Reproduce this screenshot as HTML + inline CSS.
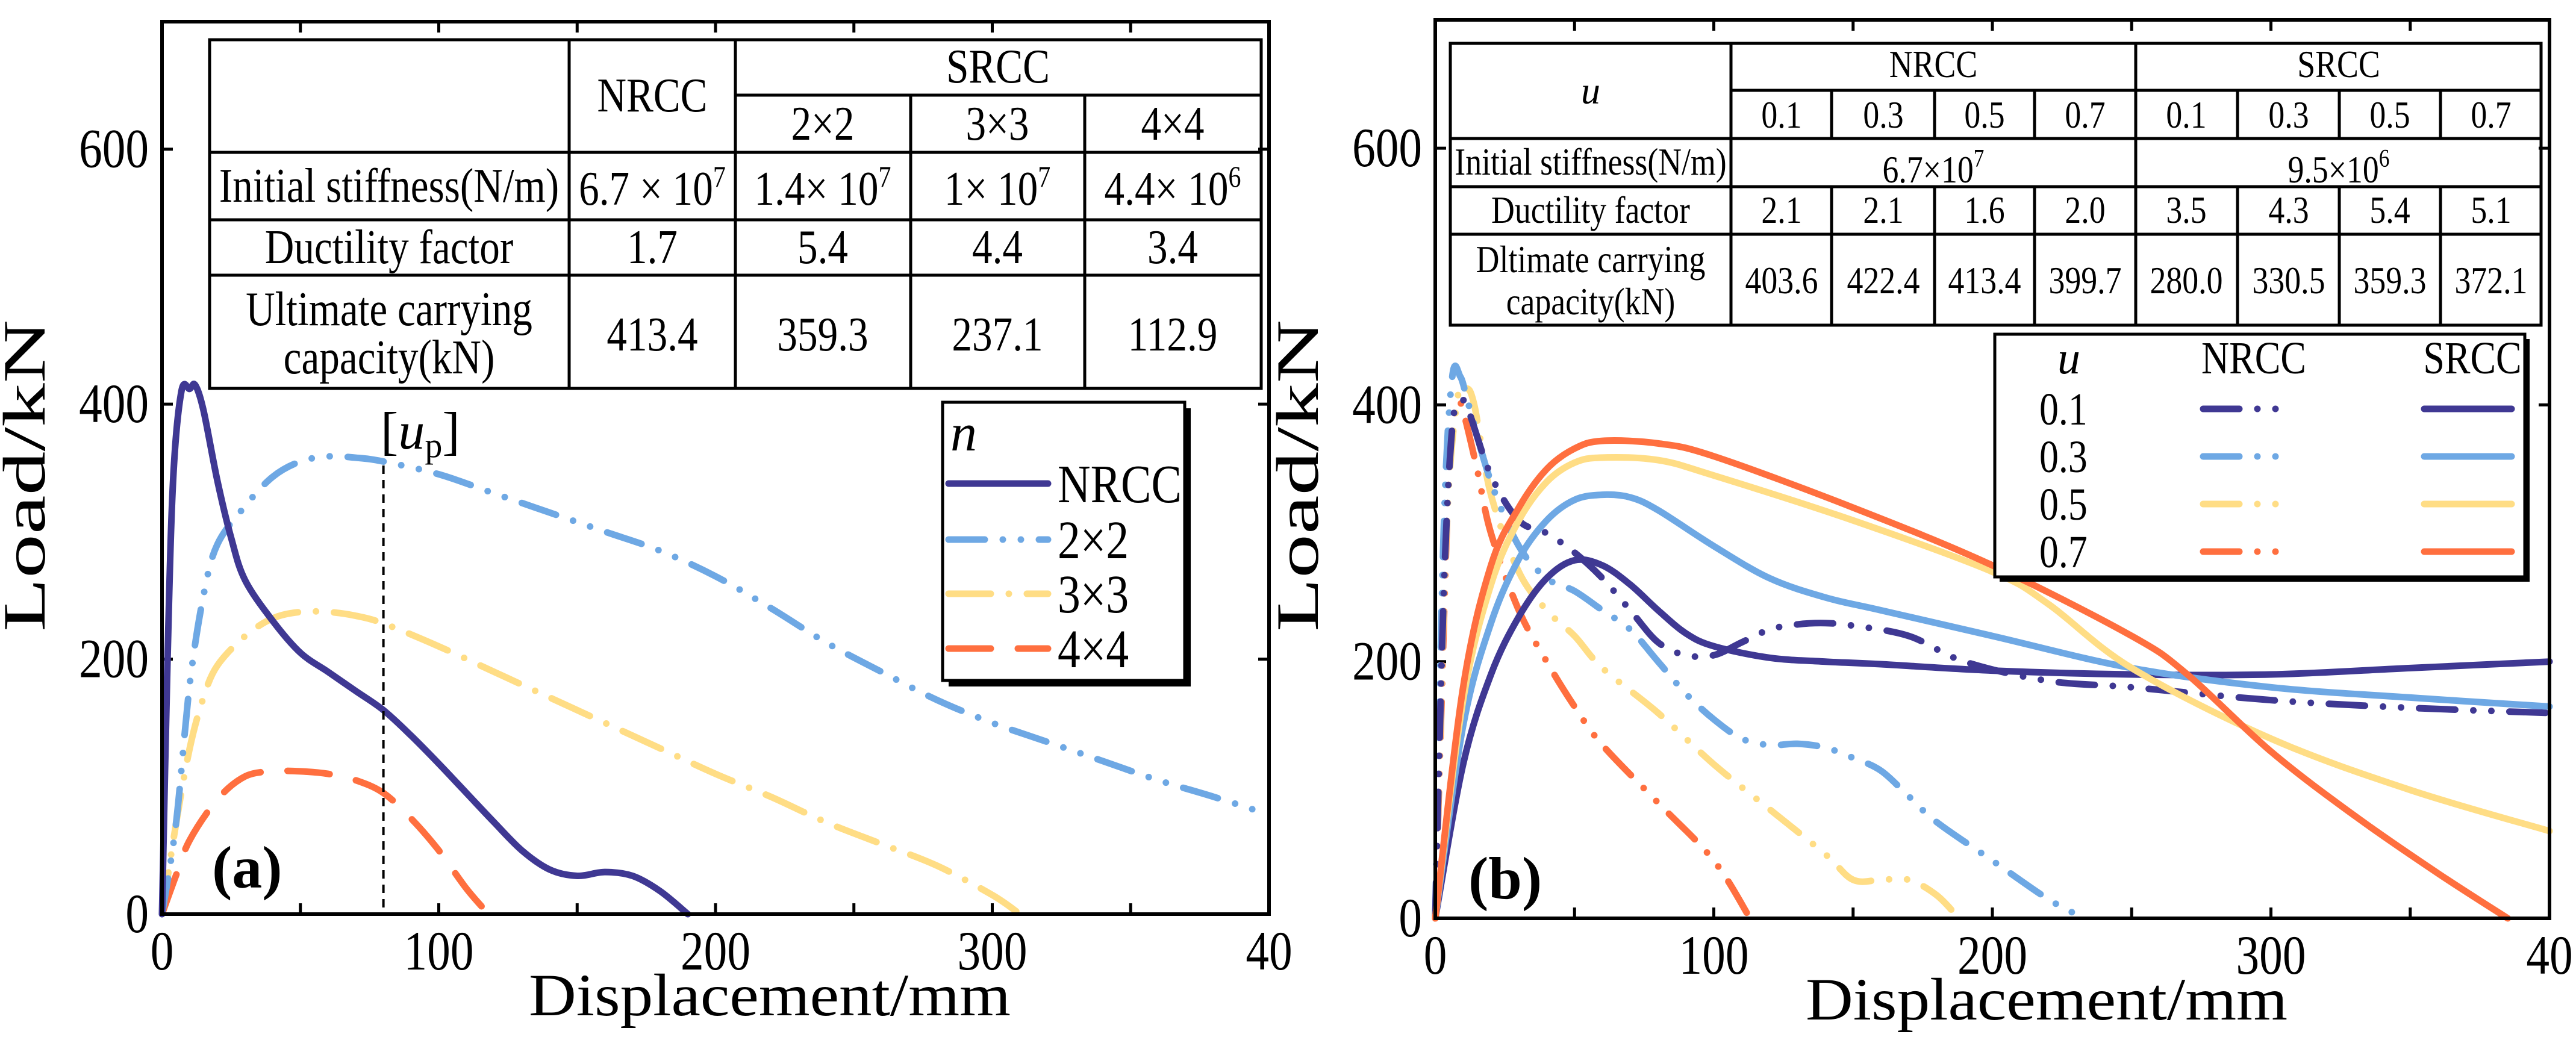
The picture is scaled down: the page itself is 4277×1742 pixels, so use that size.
<!DOCTYPE html>
<html><head><meta charset="utf-8"><style>
html,body{margin:0;padding:0;background:#fff;}
svg{display:block;}
text{font-family:"Liberation Serif","Times New Roman","DejaVu Serif",serif;fill:#000;}
</style></head><body>
<svg id="chart" width="4277" height="1742" viewBox="0 0 4277 1742" xmlns="http://www.w3.org/2000/svg">
<rect width="4277" height="1742" fill="#fff"/>
<g id="plotA"></g>
<g id="plotB"></g>

<!-- Left table -->
<g stroke="#000" stroke-width="5" fill="none">
<rect x="348" y="66" width="1746" height="579"/>
<line x1="1221" y1="158" x2="2094" y2="158"/>
<line x1="348" y1="253" x2="2094" y2="253"/>
<line x1="348" y1="365" x2="2094" y2="365"/>
<line x1="348" y1="457" x2="2094" y2="457"/>
<line x1="945" y1="66" x2="945" y2="645"/>
<line x1="1221" y1="66" x2="1221" y2="645"/>
<line x1="1512" y1="158" x2="1512" y2="645"/>
<line x1="1801" y1="158" x2="1801" y2="645"/>
</g>
<g font-size="80" text-anchor="middle">
<text class="c" x="1083" y="185">NRCC</text>
<text class="c" x="1657" y="137">SRCC</text>
<text class="c" x="1366" y="232">2×2</text>
<text class="c" x="1656" y="232">3×3</text>
<text class="c" x="1947" y="232">4×4</text>
<text class="c" x="646" y="335">Initial stiffness(N/m)</text>
<text class="c" x="1083" y="340">6.7 × 10<tspan dy="-30" font-size="50">7</tspan></text>
<text class="c" x="1366" y="340">1.4× 10<tspan dy="-30" font-size="50">7</tspan></text>
<text class="c" x="1656" y="340">1× 10<tspan dy="-30" font-size="50">7</tspan></text>
<text class="c" x="1947" y="340">4.4× 10<tspan dy="-30" font-size="50">6</tspan></text>
<text class="c" x="646" y="437">Ductility factor</text>
<text class="c" x="1083" y="437">1.7</text>
<text class="c" x="1366" y="437">5.4</text>
<text class="c" x="1656" y="437">4.4</text>
<text class="c" x="1947" y="437">3.4</text>
<text class="c" x="646" y="540">Ultimate carrying</text>
<text class="c" x="646" y="620">capacity(kN)</text>
<text class="c" x="1083" y="582">413.4</text>
<text class="c" x="1366" y="582">359.3</text>
<text class="c" x="1656" y="582">237.1</text>
<text class="c" x="1947" y="582">112.9</text>
</g>

<!-- Right table -->
<g stroke="#000" stroke-width="5" fill="none">
<rect x="2408" y="72" width="1811" height="468"/>
<line x1="2874" y1="150" x2="4219" y2="150"/>
<line x1="2408" y1="230" x2="4219" y2="230"/>
<line x1="2408" y1="310" x2="4219" y2="310"/>
<line x1="2408" y1="389" x2="4219" y2="389"/>
<line x1="2874" y1="72" x2="2874" y2="540"/>
<line x1="3546" y1="72" x2="3546" y2="540"/>
<line x1="3041" y1="150" x2="3041" y2="230"/><line x1="3212" y1="150" x2="3212" y2="230"/><line x1="3378" y1="150" x2="3378" y2="230"/>
<line x1="3715" y1="150" x2="3715" y2="230"/><line x1="3884" y1="150" x2="3884" y2="230"/><line x1="4052" y1="150" x2="4052" y2="230"/>
<line x1="3041" y1="310" x2="3041" y2="540"/><line x1="3212" y1="310" x2="3212" y2="540"/><line x1="3378" y1="310" x2="3378" y2="540"/>
<line x1="3715" y1="310" x2="3715" y2="540"/><line x1="3884" y1="310" x2="3884" y2="540"/><line x1="4052" y1="310" x2="4052" y2="540"/>
</g>
<g font-size="64" text-anchor="middle">
<text x="2641" y="172" font-style="italic">u</text>
<text class="c" x="3210" y="128">NRCC</text>
<text class="c" x="3883" y="128">SRCC</text>
<text class="c" x="2958" y="212">0.1</text><text class="c" x="3127" y="212">0.3</text><text class="c" x="3295" y="212">0.5</text><text class="c" x="3462" y="212">0.7</text>
<text class="c" x="3630" y="212">0.1</text><text class="c" x="3800" y="212">0.3</text><text class="c" x="3968" y="212">0.5</text><text class="c" x="4136" y="212">0.7</text>
<text class="c" x="2641" y="290">Initial stiffness(N/m)</text>
<text class="c" x="3210" y="303">6.7×10<tspan dy="-26" font-size="42">7</tspan></text>
<text class="c" x="3883" y="303">9.5×10<tspan dy="-26" font-size="42">6</tspan></text>
<text class="c" x="2641" y="370">Ductility factor</text>
<text class="c" x="2958" y="370">2.1</text><text class="c" x="3127" y="370">2.1</text><text class="c" x="3295" y="370">1.6</text><text class="c" x="3462" y="370">2.0</text>
<text class="c" x="3630" y="370">3.5</text><text class="c" x="3800" y="370">4.3</text><text class="c" x="3968" y="370">5.4</text><text class="c" x="4136" y="370">5.1</text>
<text class="c" x="2641" y="452">Dltimate carrying</text>
<text class="c" x="2641" y="522">capacity(kN)</text>
<text class="c" x="2958" y="487">403.6</text><text class="c" x="3127" y="487">422.4</text><text class="c" x="3295" y="487">413.4</text><text class="c" x="3462" y="487">399.7</text>
<text class="c" x="3630" y="487">280.0</text><text class="c" x="3800" y="487">330.5</text><text class="c" x="3968" y="487">359.3</text><text class="c" x="4136" y="487">372.1</text>
</g>

<g id="legendA"></g>
<g id="legendB"></g>
</svg>
<script>
// ---------- data (panel a) ----------
const aNrccX=[0,2,4,7,10,12,15,20,25,30,40,50,60,70,80,90,100,110,120,130,140,150,160,170,180,190];
const aNrccY=[0,200,340,410,412,415,395,340,295,262,230,205,190,175,160,140,118,95,72,50,35,30,33,30,18,0];
const a22X=[0,5,10,15,20,30,40,50,60,70,80,100,120,140,160,180,200,220,240,260,280,300,320,340,360,380,400];
const a22Y=[0,70,180,250,290,320,343,355,359,358,355,345,330,315,300,285,265,240,213,190,168,150,135,120,105,92,78];
const a33X=[0,5,10,15,20,30,40,50,60,70,80,100,120,140,160,180,200,220,240,260,280,300,310];
const a33Y=[0,70,130,170,195,218,232,237,237,234,228,210,190,170,150,130,110,92,72,55,38,15,0];
const a44X=[0,5,10,20,30,40,50,60,70,80,90,100,110,118];
const a44Y=[0,30,58,90,108,112,112,110,105,95,75,50,20,0];
// ---------- data (panel b) ----------
const bS1X=[0,10,20,30,40,50,60,70,80,90,100,120,140,160,200,250,300,350,400];
const bS1Y=[0,120,190,235,265,279,275,260,240,222,212,203,200,198,193,190,190,195,200];
const bS3X=[0,10,20,30,40,50,60,70,80,100,120,140,160,200,250,300,350,400];
const bS3Y=[0,150,230,280,310,326,330,328,318,290,265,250,240,220,195,180,172,165];
const bS5X=[0,10,20,30,40,50,60,80,100,150,200,220,250,300,350,400];
const bS5Y=[0,170,260,310,340,355,359,357,345,310,270,245,195,140,100,68];
const bS7X=[0,10,20,30,40,50,60,80,100,150,200,250,270,300,330,360,385];
const bS7Y=[0,180,275,320,350,366,372,370,360,320,275,220,190,130,80,35,0];
const bN1X=[0,3,6,9,12,20,30,40,50,60,70,80,90,100,110,120,130,140,150,170,190,220,250,300,350,400];
const bN1Y=[0,250,380,403,395,345,310,300,285,265,240,215,205,205,215,225,229,230,228,220,200,185,180,170,164,160];
const bN3X=[0,3,6,9,12,20,30,40,50,60,70,80,90,100,110,120,130,140,150,160,170,180,200,220,233];
const bN3Y=[0,300,420,422,400,340,290,265,255,240,225,200,175,155,140,135,136,133,125,115,95,75,45,15,0];
const bN5X=[0,4,8,11,14,20,30,40,50,60,80,100,120,140,150,160,170,180,188];
const bN5Y=[0,300,405,413,400,330,270,240,220,195,160,120,85,50,30,30,30,18,0];
const bN7X=[0,2,5,8,10,15,20,30,40,50,60,80,100,113];
const bN7Y=[0,150,350,400,395,350,300,240,200,165,135,90,45,0];
const xTicks=[0,100,200,300,400];
const xTickLabels=['0','100','200','300','40'];
const yTicks=[0,200,400,600];
const yTickLabels=['0','200','400','600'];

const NS='http://www.w3.org/2000/svg';
const C={dark:'#3f3893',light:'#6ea8e4',yel:'#ffdd85',org:'#ff6f3f'};
const DASH={solid:null,dd:'60 30 0 30 0 30',dashdot:'70 30 0 30',dash:'70 45'};

function mk(tag,attrs,parent){const e=document.createElementNS(NS,tag);for(const k in attrs)e.setAttribute(k,attrs[k]);parent.appendChild(e);return e;}

function makeAxes(g,x0,x1,yb,yt,letter,lx,ly){
  const sx=v=>x0+(x1-x0)*v/400, sy=v=>yb-(yb-yt)*v/700;
  for(let t=50;t<400;t+=50){
    const tk1=mk('line',{x1:sx(t),x2:sx(t),y1:yb,y2:yb-18,stroke:'#000','stroke-width':5},g);
    
    
    const tk2=mk('line',{x1:sx(t),x2:sx(t),y1:yt,y2:yt+18,stroke:'#000','stroke-width':5},g);
    
    
  }
  yTicks.forEach((t,i)=>{
    if(t>0){
      const a=mk('line',{x1:x0,x2:x0+18,y1:sy(t),y2:sy(t),stroke:'#000','stroke-width':5},g);
      
      
      const b=mk('line',{x1:x1,x2:x1-18,y1:sy(t),y2:sy(t),stroke:'#000','stroke-width':5},g);
      
      
    }
    const tl=mk('text',{x:x0-22,y:sy(t)+30,'font-size':92,'text-anchor':'end',class:'c'},g);
    tl.textContent=yTickLabels[i];
    
    
  });
  xTicks.forEach((t,i)=>{
    const tl=mk('text',{x:sx(t),y:yb+92,'font-size':92,'text-anchor':'middle',class:'c'},g);
    tl.textContent=xTickLabels[i];
    
    
  });
  const xt=mk('text',{x:(x0+x1)/2+90,y:yb+168,'font-size':100,'text-anchor':'middle',textLength:800,lengthAdjust:'spacingAndGlyphs'},g);
  xt.textContent='Displacement/mm';
  
  
  const cy=790;
  const yt2=mk('text',{x:0,y:0,'font-size':100,'text-anchor':'middle',textLength:518,lengthAdjust:'spacingAndGlyphs',transform:`translate(${x0-195},${cy}) rotate(-90)`},g);
  yt2.textContent='Load/kN';
  
  
  const lab=mk('text',{x:lx,y:ly,'font-size':100,'font-weight':'bold','text-anchor':'start'},g);
  lab.textContent=letter;
  
  
  return {sx,sy};
}
function drawSeries(g,ax,xs,ys,color,dash,name){
  const pts=xs.map((x,i)=>[ax.sx(x),ax.sy(ys[i])]);
  let d=`M${pts[0][0]},${pts[0][1]}`;
  for(let i=0;i<pts.length-1;i++){
    const p0=pts[Math.max(0,i-1)],p1=pts[i],p2=pts[i+1],p3=pts[Math.min(pts.length-1,i+2)];
    const c1=[p1[0]+(p2[0]-p0[0])/6,p1[1]+(p2[1]-p0[1])/6];
    const c2=[p2[0]-(p3[0]-p1[0])/6,p2[1]-(p3[1]-p1[1])/6];
    d+=`C${c1[0]},${c1[1]} ${c2[0]},${c2[1]} ${p2[0]},${p2[1]}`;
  }
  const a={d,fill:'none',stroke:color,'stroke-width':11,'stroke-linecap':'round','stroke-linejoin':'round'};
  if(dash)a['stroke-dasharray']=dash;
  const p=mk('path',a,g);
  
  
}
function frame(g,x0,x1,yb,yt){
  const r=mk('rect',{x:x0,y:yt,width:x1-x0,height:yb-yt,fill:'none',stroke:'#000','stroke-width':6},g);
  
  
}

// Panel a
const gA=document.getElementById('plotA');
const axA=makeAxes(gA,269,2107,1518,36,'(a)',352,1474);
drawSeries(gA,axA,a44X,a44Y,C.org,DASH.dash,'series-4x4');
drawSeries(gA,axA,a33X,a33Y,C.yel,DASH.dashdot,'series-3x3');
drawSeries(gA,axA,a22X,a22Y,C.light,DASH.dd,'series-2x2');
drawSeries(gA,axA,aNrccX,aNrccY,C.dark,null,'series-nrcc');
const up=mk('line',{x1:axA.sx(80),x2:axA.sx(80),y1:773,y2:1518,stroke:'#000','stroke-width':4,'stroke-dasharray':'14 10'},gA);


const upt=mk('text',{x:632,y:745,'font-size':88},gA);
upt.innerHTML='[<tspan font-style="italic">u</tspan><tspan font-size="58" dy="14">p</tspan><tspan dy="-14">]</tspan>';


frame(gA,269,2107,1518,36);

// Panel b
const gB=document.getElementById('plotB');
const axB=makeAxes(gB,2383,4233,1525,33,'(b)',2438,1492);
drawSeries(gB,axB,bN7X,bN7Y,C.org,DASH.dd,'series-nrcc-0.7');
drawSeries(gB,axB,bN5X,bN5Y,C.yel,DASH.dd,'series-nrcc-0.5');
drawSeries(gB,axB,bN3X,bN3Y,C.light,DASH.dd,'series-nrcc-0.3');
drawSeries(gB,axB,bN1X,bN1Y,C.dark,DASH.dd,'series-nrcc-0.1');
drawSeries(gB,axB,bS1X,bS1Y,C.dark,null,'series-srcc-0.1');
drawSeries(gB,axB,bS3X,bS3Y,C.light,null,'series-srcc-0.3');
drawSeries(gB,axB,bS5X,bS5Y,C.yel,null,'series-srcc-0.5');
drawSeries(gB,axB,bS7X,bS7Y,C.org,null,'series-srcc-0.7');
frame(gB,2383,4233,1525,33);

// Legend a
const LA=document.getElementById('legendA');
mk('rect',{x:1575,y:678,width:402,height:462,fill:'#000'},LA);
mk('rect',{x:1565,y:668,width:402,height:462,fill:'#fff',stroke:'#000','stroke-width':5},LA);
const nT=mk('text',{x:1578,y:748,'font-size':88,'font-style':'italic'},LA);nT.textContent='n';
const legA=[['NRCC',C.dark,null,803],['2×2',C.light,DASH.dd,896],['3×3',C.yel,DASH.dashdot,986],['4×4',C.org,DASH.dash,1077]];
legA.forEach(r=>{
  const a={x1:1575,x2:1740,y1:r[3],y2:r[3],stroke:r[1],'stroke-width':11,'stroke-linecap':'round'};
  if(r[2])a['stroke-dasharray']=r[2];
  const l=mk('line',a,LA);
  
  
  const t=mk('text',{x:1756,y:r[3]+31,'font-size':90,class:'c'},LA);t.textContent=r[0];
  
  
});
// Legend b
const LB=document.getElementById('legendB');
mk('rect',{x:3320,y:563,width:880,height:403,fill:'#000'},LB);
mk('rect',{x:3312,y:555,width:880,height:403,fill:'#fff',stroke:'#000','stroke-width':5},LB);
const uT=mk('text',{x:3435,y:620,'font-size':76,'font-style':'italic','text-anchor':'middle'},LB);uT.textContent='u';
const hN=mk('text',{x:3742,y:620,'font-size':76,'text-anchor':'middle',class:'c'},LB);hN.textContent='NRCC';
const hS=mk('text',{x:4105,y:620,'font-size':76,'text-anchor':'middle',class:'c'},LB);hS.textContent='SRCC';
const legB=[['0.1',C.dark,679],['0.3',C.light,758],['0.5',C.yel,837],['0.7',C.org,916]];
legB.forEach(r=>{
  const t=mk('text',{x:3386,y:r[2]+26,'font-size':76,class:'c'},LB);t.textContent=r[0];
  
  
  const l1=mk('line',{x1:3658,x2:3800,y1:r[2],y2:r[2],stroke:r[1],'stroke-width':11,'stroke-linecap':'round','stroke-dasharray':'60 30 0 30 0 30'},LB);
  
  
  const l2=mk('line',{x1:4025,x2:4170,y1:r[2],y2:r[2],stroke:r[1],'stroke-width':11,'stroke-linecap':'round'},LB);
  
  
});

// condense text like reference
document.querySelectorAll('text.c').forEach(t=>{
  const w=t.getComputedTextLength();
  if(w>0){t.setAttribute('textLength',(w*0.84).toFixed(1));t.setAttribute('lengthAdjust','spacingAndGlyphs');}
});
</script>
</body></html>
